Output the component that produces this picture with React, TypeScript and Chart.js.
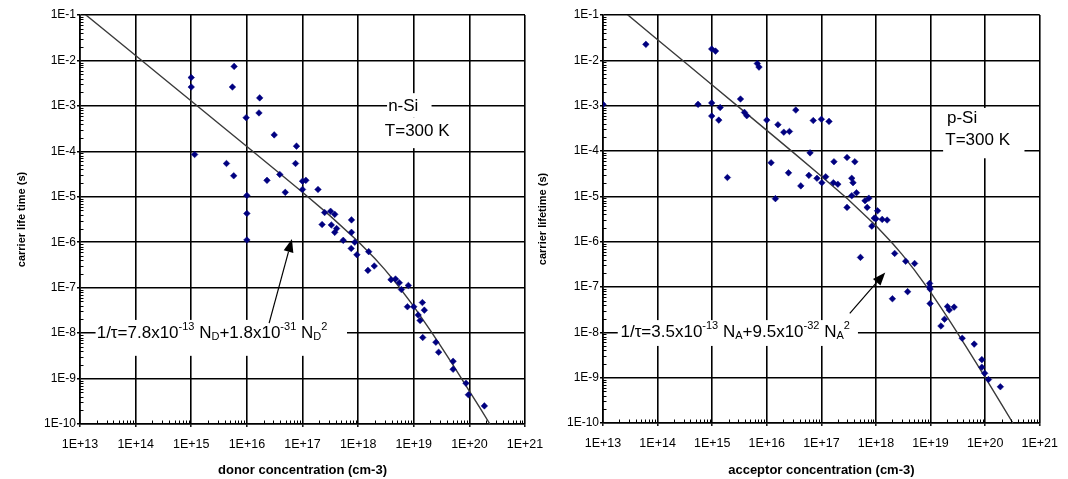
import React, { useEffect, useRef } from 'react';
import { Chart, registerables } from 'chart.js';

Chart.register(...registerables);

const FONT = "'Liberation Sans', Arial, Helvetica, sans-serif";

// ---------- axis ticks (decade exponents) ----------
const xDecades = [13, 14, 15, 16, 17, 18, 19, 20, 21];
const yDecades = [-10, -9, -8, -7, -6, -5, -4, -3, -2, -1];

// ---------- n-Si measured data ----------
const nSiDonor = [
  1.0e15, 1.0e15, 5.9e15, 5.5e15, 1.7e16, 1.65e16, 9.7e15, 3.1e16, 7.8e16, 1.15e15,
  4.3e15, 7.5e16, 5.8e15, 3.9e16, 2.3e16, 1.0e17, 1.15e17, 4.9e16, 1.0e17, 1.9e17,
  1.0e16, 1.0e16, 2.5e17, 3.2e17, 3.8e17, 7.6e17, 2.25e17, 3.3e17, 4.1e17, 3.8e17,
  7.6e17, 5.4e17, 1.0e16, 8.7e17, 7.5e17, 9.5e17, 1.55e18, 1.5e18, 1.95e18, 3.9e18,
  4.7e18, 5.5e18, 6.0e18, 8.0e18, 7.7e18, 1.0e19, 1.43e19, 1.55e19, 1.2e19, 1.3e19,
  1.45e19, 2.5e19, 2.8e19, 5.1e19, 5.1e19, 8.7e19, 9.6e19, 1.86e20,
];
const nSiLifetime = [
  4.2e-3, 2.6e-3, 7.4e-3, 2.6e-3, 1.5e-3, 7.0e-4, 5.5e-4, 2.3e-4, 1.3e-4, 8.5e-5,
  5.4e-5, 5.4e-5, 2.9e-5, 3.1e-5, 2.3e-5, 2.2e-5, 2.3e-5, 1.25e-5, 1.45e-5, 1.45e-5,
  1.07e-5, 4.3e-6, 4.5e-6, 4.8e-6, 4.1e-6, 3.1e-6, 2.45e-6, 2.4e-6, 2.0e-6, 1.65e-6,
  1.65e-6, 1.1e-6, 1.12e-6, 1.0e-6, 7.3e-7, 5.3e-7, 6.2e-7, 2.4e-7, 3.0e-7, 1.5e-7,
  1.55e-7, 1.28e-7, 9.1e-8, 1.12e-7, 3.8e-8, 3.8e-8, 4.7e-8, 3.2e-8, 2.5e-8, 1.9e-8,
  8.0e-9, 6.3e-9, 3.8e-9, 2.4e-9, 1.6e-9, 7.9e-10, 4.4e-10, 2.5e-10,
];

// n-Si fit curve 1/tau = 7.8e-13 N + 1.8e-31 N^2 (values at these N)
const nFitN = [
  1e13, 3e13, 1e14, 3e14, 1e15, 3e15, 1e16, 3e16, 1e17, 3e17, 1e18, 2e18, 3e18,
  5e18, 1e19, 2e19, 3e19, 5e19, 1e20, 1.5e20, 2.34e20,
];
const nFitTau = [
  0.128, 0.0427, 0.01282, 4.27e-3, 1.282e-3, 4.27e-4, 1.279e-4, 4.24e-5, 1.253e-5, 4.0e-6,
  1.042e-6, 4.39e-7, 2.53e-7, 1.19e-7, 3.88e-8, 1.14e-8, 5.39e-9, 2.04e-9, 5.32e-10,
  2.4e-10, 1.0e-10,
];

// ---------- p-Si measured data ----------
const pSiAcceptor = [
  1.0e13, 6.1e13, 9.8e14, 1.15e15, 6.7e15, 7.2e15, 5.5e14, 9.8e14, 3.3e15, 1.4e15,
  9.8e14, 1.32e15, 3.9e15, 4.3e15, 1.0e16, 3.4e16, 1.6e16, 2.05e16, 2.6e16, 7.1e16,
  1.0e17, 1.38e17, 6.2e16, 1.2e16, 1.7e17, 2.95e17, 4.1e17, 1.9e15, 2.5e16, 5.9e16,
  8.3e16, 1.2e17, 1.02e17, 1.66e17, 2.0e17, 4.2e16, 3.6e17, 3.8e17, 4.4e17, 3.6e17,
  1.44e16, 6.3e17, 7.4e17, 2.95e17, 6.9e17, 1.07e18, 9.3e17, 1.0e18, 1.3e18, 1.6e18,
  8.4e17, 5.2e17, 2.2e18, 3.5e18, 5.1e18, 2.0e18, 3.8e18, 9.6e18, 9.6e18, 9.8e18,
  9.8e18, 2.04e19, 2.2e19, 2.7e19, 1.8e19, 1.55e19, 3.8e19, 6.3e19, 8.7e19, 8.7e19,
  9.8e19, 1.15e20, 1.9e20,
];
const pSiLifetime = [
  1.07e-3, 2.25e-2, 1.78e-2, 1.6e-2, 8.5e-3, 7.1e-3, 1.07e-3, 1.15e-3, 1.4e-3, 9.1e-4,
  5.9e-4, 4.8e-4, 7.1e-4, 6.0e-4, 4.8e-4, 8.0e-4, 3.8e-4, 2.6e-4, 2.7e-4, 4.7e-4,
  5.0e-4, 4.5e-4, 9.1e-5, 5.5e-5, 5.8e-5, 7.2e-5, 5.8e-5, 2.6e-5, 3.3e-5, 2.9e-5,
  2.5e-5, 2.7e-5, 2.0e-5, 2.0e-5, 1.85e-5, 1.7e-5, 2.5e-5, 2.0e-5, 1.2e-5, 1.03e-5,
  8.9e-6, 8.0e-6, 9.1e-6, 5.7e-6, 5.7e-6, 4.8e-6, 3.3e-6, 3.2e-6, 3.1e-6, 3.0e-6,
  2.2e-6, 4.5e-7, 5.5e-7, 3.7e-7, 3.3e-7, 5.5e-8, 7.9e-8, 1.2e-7, 1.0e-7, 9.0e-8,
  4.3e-8, 3.7e-8, 3.1e-8, 3.6e-8, 1.95e-8, 1.38e-8, 7.4e-9, 5.5e-9, 2.5e-9, 1.7e-9,
  1.25e-9, 9.1e-10, 6.3e-10,
];

// p-Si fit curve 1/tau = 3.5e-13 N + 9.5e-32 N^2
const pFitN = [
  2.6e13, 1e14, 3e14, 1e15, 3e15, 1e16, 3e16, 1e17, 3e17, 1e18, 2e18, 3e18, 5e18,
  1e19, 2e19, 3e19, 5e19, 1e20, 2e20, 3.22e20,
];
const pFitTau = [
  0.11, 0.02857, 9.52e-3, 2.857e-3, 9.52e-4, 2.85e-4, 9.45e-5, 2.78e-5, 8.81e-6, 2.25e-6,
  9.26e-7, 5.25e-7, 2.42e-7, 7.69e-8, 2.22e-8, 1.04e-8, 3.92e-9, 1.015e-9, 2.58e-10,
  1.0e-10,
];

// ---------- text ----------
const nTitleX = 'donor concentration (cm-3)';
const pTitleX = 'acceptor concentration (cm-3)';
const nTitleY = 'carrier life time (s)';
const pTitleY = 'carrier lifetime (s)';

type Kind = 'n' | 'sup' | 'sub';
type Part = [string, Kind];

const nFormula: Part[] = [
  ['1/\u03C4=7.8x10', 'n'], ['-13', 'sup'], [' N', 'n'], ['D', 'sub'],
  ['+1.8x10', 'n'], ['-31', 'sup'], [' N', 'n'], ['D', 'sub'], ['2', 'sup'],
];
const pFormula: Part[] = [
  ['1/\u03C4=3.5x10', 'n'], ['-13', 'sup'], [' N', 'n'], ['A', 'sub'],
  ['+9.5x10', 'n'], ['-32', 'sup'], [' N', 'n'], ['A', 'sub'], ['2', 'sup'],
];

interface Anno {
  boxes: number[][]; // [logX0, logX1, logY0, logY1]
  texts: { x: number; y: number; parts: Part[] }[];
  arrow: number[]; // [logX tail, logY tail, logX tip, logY tip]
}

const nAnno: Anno = {
  boxes: [
    [18.52, 19.32, -2.72, -3.25],
    [18.45, 19.76, -3.25, -3.93],
    [13.28, 17.8, -7.71, -8.5],
  ],
  texts: [
    { x: 18.54, y: -3.0, parts: [['n-Si', 'n']] },
    { x: 18.48, y: -3.57, parts: [['T=300 K', 'n']] },
    { x: 13.3, y: -8.0, parts: nFormula },
  ],
  arrow: [16.4, -7.78, 16.81, -5.93],
};

const pAnno: Anno = {
  boxes: [
    [19.23, 20.72, -3.05, -4.16],
    [13.27, 17.67, -7.73, -8.3],
  ],
  texts: [
    { x: 19.3, y: -3.28, parts: [['p-Si', 'n']] },
    { x: 19.27, y: -3.76, parts: [['T=300 K', 'n']] },
    { x: 13.32, y: -8.0, parts: pFormula },
  ],
  arrow: [17.52, -7.58, 18.17, -6.68],
};

function expLabel(v: number): string {
  const e = Math.round(Math.log10(v));
  return '1E' + (e >= 0 ? '+' + e : String(e));
}

function drawRich(ctx: CanvasRenderingContext2D, parts: Part[], x: number, y: number) {
  ctx.fillStyle = '#000';
  ctx.textBaseline = 'middle';
  ctx.textAlign = 'left';
  let cx = x;
  for (const [s, k] of parts) {
    if (k === 'n') {
      ctx.font = `17px ${FONT}`;
      ctx.fillText(s, cx, y);
    } else {
      ctx.font = `11px ${FONT}`;
      ctx.fillText(s, cx, y + (k === 'sup' ? -6 : 4));
    }
    cx += ctx.measureText(s).width;
  }
}

function annoPlugin(anno: Anno) {
  return {
    id: 'anno',
    afterDraw(chart: any) {
      const { ctx, chartArea } = chart;
      const xs = chart.scales.x;
      const ys = chart.scales.y;
      const px = (l: number) => xs.getPixelForValue(Math.pow(10, l));
      const py = (l: number) => ys.getPixelForValue(Math.pow(10, l));
      ctx.save();
      // minor ticks
      ctx.strokeStyle = '#000';
      ctx.lineWidth = 1;
      ctx.beginPath();
      for (let d = xDecades[0]; d < xDecades[xDecades.length - 1]; d++) {
        for (let k = 2; k <= 9; k++) {
          const xx = Math.round(xs.getPixelForValue(k * Math.pow(10, d))) + 0.5;
          ctx.moveTo(xx, chartArea.bottom);
          ctx.lineTo(xx, chartArea.bottom - 3.5);
        }
      }
      for (let d = yDecades[0]; d < yDecades[yDecades.length - 1]; d++) {
        for (let k = 2; k <= 9; k++) {
          const yy = Math.round(ys.getPixelForValue(k * Math.pow(10, d))) + 0.5;
          ctx.moveTo(chartArea.left, yy);
          ctx.lineTo(chartArea.left + 3.5, yy);
        }
      }
      ctx.stroke();
      // white boxes behind labels
      ctx.fillStyle = '#fff';
      for (const [x0, x1, y0, y1] of anno.boxes) {
        const a = px(x0), b = px(x1), c = py(y0), e = py(y1);
        ctx.fillRect(a, Math.min(c, e), b - a, Math.abs(e - c));
      }
      for (const t of anno.texts) drawRich(ctx, t.parts, px(t.x), py(t.y));
      // arrow
      const [ax0, ay0, ax1, ay1] = anno.arrow;
      const x0 = px(ax0), y0 = py(ay0), x1 = px(ax1), y1 = py(ay1);
      const ang = Math.atan2(y1 - y0, x1 - x0);
      const L = 13, W = 5;
      const bx = x1 - L * Math.cos(ang), by = y1 - L * Math.sin(ang);
      ctx.strokeStyle = '#000';
      ctx.lineWidth = 1.2;
      ctx.beginPath();
      ctx.moveTo(x0, y0);
      ctx.lineTo(bx, by);
      ctx.stroke();
      ctx.fillStyle = '#000';
      ctx.beginPath();
      ctx.moveTo(x1, y1);
      ctx.lineTo(bx + W * Math.sin(ang), by - W * Math.cos(ang));
      ctx.lineTo(bx - W * Math.sin(ang), by + W * Math.cos(ang));
      ctx.closePath();
      ctx.fill();
      ctx.restore();
    },
  };
}

interface PanelCfg {
  xs: number[];
  ys: number[];
  fitX: number[];
  fitY: number[];
  titleX: string;
  titleY: string;
  anno: Anno;
  yWidth: number;
  xHeight: number;
  padRight: number;
  yTitlePad: number;
}

function makeChart(canvas: HTMLCanvasElement, cfg: PanelCfg) {
  const pts = cfg.xs.map((x, i) => ({ x, y: cfg.ys[i] }));
  const fit = cfg.fitX.map((x, i) => ({ x, y: cfg.fitY[i] }));
  const gridCommon = {
    color: '#000',
    lineWidth: 1.6,
    tickLength: 3,
    tickColor: '#000',
    tickWidth: 1.4,
    drawTicks: true,
  };
  return new Chart(canvas, {
    type: 'scatter',
    data: {
      datasets: [
        {
          data: pts,
          pointStyle: 'rectRot',
          pointRadius: 3.3,
          backgroundColor: '#000080',
          borderColor: '#000080',
          borderWidth: 0.5,
          showLine: false,
        },
        {
          data: fit,
          showLine: true,
          pointRadius: 0,
          borderColor: '#3a3a3a',
          borderWidth: 1.4,
          tension: 0,
          fill: false,
        },
      ],
    },
    options: {
      animation: false,
      responsive: false,
      devicePixelRatio: 1,
      events: [],
      layout: { padding: { left: 0, top: 15, right: cfg.padRight, bottom: 0 } },
      plugins: { legend: { display: false }, tooltip: { enabled: false } },
      scales: {
        x: {
          type: 'logarithmic',
          position: 'bottom',
          min: 1e13,
          max: 1e21,
          afterBuildTicks: (s: any) => {
            s.ticks = xDecades.map((e) => ({ value: Math.pow(10, e) }));
          },
          afterFit: (s: any) => {
            s.height = cfg.xHeight;
          },
          ticks: {
            callback: (v: any) => expLabel(Number(v)),
            autoSkip: false,
            maxRotation: 0,
            color: '#000',
            padding: 10,
            font: { family: FONT, size: 12.5 },
          },
          grid: gridCommon,
          border: { display: true, color: '#000', width: 1.6 },
          title: {
            display: true,
            text: cfg.titleX,
            color: '#000',
            font: { family: FONT, size: 13, weight: 'bold' },
            padding: { top: 0, bottom: 1 },
          },
        },
        y: {
          type: 'logarithmic',
          position: 'left',
          min: 1e-10,
          max: 1e-1,
          afterBuildTicks: (s: any) => {
            s.ticks = yDecades.map((e) => ({ value: Math.pow(10, e) }));
          },
          afterFit: (s: any) => {
            s.width = cfg.yWidth;
          },
          ticks: {
            callback: (v: any) => expLabel(Number(v)),
            autoSkip: false,
            color: '#000',
            padding: 1,
            font: { family: FONT, size: 12 },
          },
          grid: gridCommon,
          border: { display: true, color: '#000', width: 1.6 },
          title: {
            display: true,
            text: cfg.titleY,
            color: '#000',
            font: { family: FONT, size: 11, weight: 'bold' },
            padding: { top: cfg.yTitlePad, bottom: 0 },
          },
        },
      },
    } as any,
    plugins: [annoPlugin(cfg.anno)],
  });
}

export default function App() {
  const leftRef = useRef<HTMLCanvasElement>(null);
  const rightRef = useRef<HTMLCanvasElement>(null);

  useEffect(() => {
    Chart.defaults.font.family = FONT;
    const c1 = makeChart(leftRef.current!, {
      xs: nSiDonor,
      ys: nSiLifetime,
      fitX: nFitN,
      fitY: nFitTau,
      titleX: nTitleX,
      titleY: nTitleY,
      anno: nAnno,
      yWidth: 80,
      xHeight: 55,
      padRight: 35,
      yTitlePad: 15,
    });
    const c2 = makeChart(rightRef.current!, {
      xs: pSiAcceptor,
      ys: pSiLifetime,
      fitX: pFitN,
      fitY: pFitTau,
      titleX: pTitleX,
      titleY: pTitleY,
      anno: pAnno,
      yWidth: 73,
      xHeight: 56,
      padRight: 18,
      yTitlePad: 6,
    });
    return () => {
      c1.destroy();
      c2.destroy();
    };
  }, []);

  return (
    <div
      style={{
        position: 'fixed',
        left: 0,
        top: 0,
        width: 1068,
        height: 479,
        background: '#fff',
        overflow: 'hidden',
      }}
    >
      <canvas
        ref={leftRef}
        width={560}
        height={479}
        style={{ position: 'absolute', left: 0, top: 0, width: 560, height: 479 }}
      />
      <canvas
        ref={rightRef}
        width={538}
        height={479}
        style={{ position: 'absolute', left: 530, top: 0, width: 538, height: 479 }}
      />
    </div>
  );
}
